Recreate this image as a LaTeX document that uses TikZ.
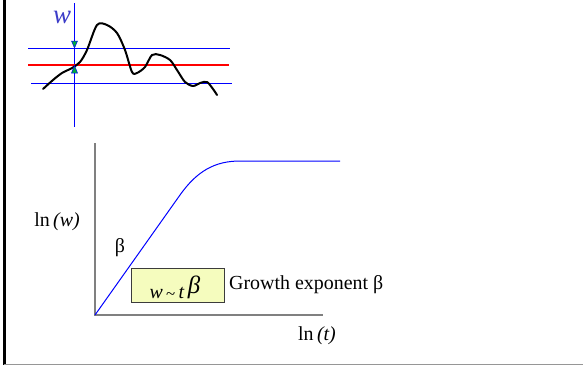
\documentclass[tikz,border=0pt]{standalone}
\usepackage{fontspec}
\setmainfont{Liberation Serif}
\definecolor{pblue}{RGB}{0,0,255}
\definecolor{pred}{RGB}{255,0,0}
\definecolor{pgreen}{RGB}{0,170,60}
\definecolor{wblue}{RGB}{60,60,200}
\definecolor{axgray}{RGB}{128,128,128}
\definecolor{bordgray}{RGB}{150,150,150}
\definecolor{boxfill}{RGB}{245,252,190}
\definecolor{boxdraw}{RGB}{60,60,60}
\begin{document}
\begin{tikzpicture}[x=1bp,y=-1bp,
  bline/.style={pblue,line width=1.3pt},
  txt/.style={font=\fontsize{20}{23}\selectfont,inner sep=0pt},
  arr/.style={fill=pgreen,draw=pblue,line width=0.5pt}]
\useasboundingbox (0,0) rectangle (583,366);
% frame
\draw[line width=2.6pt,black] (4.5,0) -- (4.5,365);
\draw[line width=1.6pt,bordgray] (4,364.5) -- (583,364.5);
% top sketch
\coordinate (ul) at (28,48.5); \coordinate (ur) at (230,48.5);
\coordinate (rl) at (28,65); \coordinate (rr) at (229,65);
\coordinate (ll) at (31,83.5); \coordinate (lr) at (232,83.5);
\coordinate (vt) at (74.5,3); \coordinate (vb) at (74.5,127);
\draw[bline] (ul) -- (ur);
\draw[bline] (ll) -- (lr);
\draw[bline] (vt) -- (vb);
\draw[line width=2.5pt,pred] (rl) -- (rr);
\draw[line width=2pt,black,line join=round,line cap=round] plot[smooth,tension=0.5] coordinates {
 (43,89) (53,80) (62,73) (72,68) (80,62) (87,50) (97,25) (107,25) (117,33) (125,50)
 (132,72) (137,73) (145,67) (152,55) (160,55) (170,60) (177,70) (185,82) (193,86)
 (200,83) (207,82) (213,89) (217,95)};
\path[arr] (74.5,48) -- (71.5,41) -- (77.5,41) -- cycle;
\path[arr] (74.5,65.5) -- (71.5,73) -- (77.5,73) -- cycle;
\node[font=\fontsize{27}{30}\selectfont\itshape,text=wblue,inner sep=0pt] (w) at (62,17) {w};
% graph
\coordinate (o) at (95,315);
\coordinate (yt) at (95,143);
\coordinate (xr) at (323,315);
\draw[line width=1.5pt,axgray] (yt) -- (o) -- (xr);
\draw[line width=1pt,pblue] (o) -- (180,195) .. controls (197,171) and (215,161) .. (240,161) -- (340,161);
\node[txt] (lnw) at (57,222) {ln\,\textit{(w)}};
\node[txt] (lnt) at (317,336) {ln\,\textit{(t)}};
\node[txt] (beta) at (120,248) {β};
\node[draw=boxdraw,line width=1pt,fill=boxfill,minimum width=93bp,minimum height=34bp,inner sep=0pt] (box) at (177.5,285) {};
\node[inner sep=0pt,font=\fontsize{20}{22}\selectfont] (formula) at (175,288) {\textit{w}\,\raisebox{-1pt}{\fontsize{17}{17}\selectfont\textasciitilde}\,\textit{t}\,\raisebox{5pt}{\fontsize{25}{25}\selectfont\textit{β}}};
\node[txt,anchor=west] (ge) at (229,285) {Growth exponent β};
\end{tikzpicture}
\end{document}
